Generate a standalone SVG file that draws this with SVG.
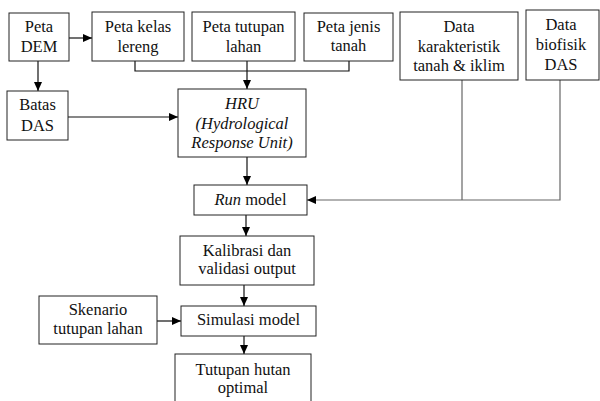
<svg xmlns="http://www.w3.org/2000/svg" width="600" height="401" viewBox="0 0 600 401">
<defs>
<marker id="ah" markerUnits="userSpaceOnUse" markerWidth="9" markerHeight="8" refX="9" refY="4" orient="auto">
<path d="M0,0 L9,4 L0,8 Z" fill="#000"/>
</marker>
<style>
.b{fill:#fff;stroke:#222;stroke-width:1}
.t{font-family:"Liberation Serif","DejaVu Serif",serif;font-size:16.5px;fill:#111;text-anchor:middle}
.i{font-style:italic}
.c{fill:none;stroke:#111;stroke-width:1.2}
.g{fill:none;stroke:#666;stroke-width:1.2}
</style>
</defs>
<rect width="600" height="401" fill="#fff"/>
<g id="connectors">
<path class="c" d="M69,38 H92" marker-end="url(#ah)"/>
<path class="c" d="M38,61 V91" marker-end="url(#ah)"/>
<path class="c" d="M68,117 H178" marker-end="url(#ah)"/>
<path class="c" d="M135,61 V71 H349 V61"/>
<path class="c" d="M247,61 V89" marker-end="url(#ah)"/>
<path class="c" d="M247,157 V185" marker-end="url(#ah)"/>
<path class="g" d="M462,80 V200"/>
<path class="g" d="M560,80 V200 H307" marker-end="url(#ah)"/>
<path class="c" d="M246,215 V236" marker-end="url(#ah)"/>
<path class="c" d="M244,285 V306" marker-end="url(#ah)"/>
<path class="c" d="M157,321 H181" marker-end="url(#ah)"/>
<path class="c" d="M244,336 V354" marker-end="url(#ah)"/>
</g>
<g id="peta-dem"><rect class="b" x="9" y="13" width="60" height="48"/><text class="t" x="39" y="32">Peta</text><text class="t" x="39" y="52">DEM</text></g>
<g id="peta-kelas"><rect class="b" x="92" y="12" width="92" height="49"/><text class="t" x="138" y="32">Peta kelas</text><text class="t" x="138" y="52">lereng</text></g>
<g id="peta-tutupan"><rect class="b" x="192" y="12" width="103" height="49"/><text class="t" x="243.5" y="32">Peta tutupan</text><text class="t" x="243.5" y="52">lahan</text></g>
<g id="peta-jenis"><rect class="b" x="304" y="13" width="89" height="48"/><text class="t" x="348.5" y="32">Peta jenis</text><text class="t" x="348.5" y="51">tanah</text></g>
<g id="data-karakteristik"><rect class="b" x="400" y="12" width="118" height="68"/><text class="t" x="459" y="32">Data</text><text class="t" x="459" y="52">karakteristik</text><text class="t" x="459" y="71">tanah &amp; iklim</text></g>
<g id="data-biofisik"><rect class="b" x="526" y="10" width="73" height="70"/><text class="t" x="561" y="30">Data</text><text class="t" x="561" y="50">biofisik</text><text class="t" x="561" y="70">DAS</text></g>
<g id="batas-das"><rect class="b" x="7" y="91" width="61" height="49"/><text class="t" x="37.5" y="110">Batas</text><text class="t" x="37.5" y="131">DAS</text></g>
<g id="hru"><rect class="b" x="178" y="89" width="128" height="68"/><text class="t i" x="242" y="109">HRU</text><text class="t i" x="242" y="129">(Hydrological</text><text class="t i" x="242" y="148">Response Unit)</text></g>
<g id="run-model"><rect class="b" x="194" y="185" width="113" height="30"/><text class="t" x="250.5" y="205"><tspan class="i">Run</tspan> model</text></g>
<g id="kalibrasi"><rect class="b" x="180" y="236" width="134" height="49"/><text class="t" x="247" y="256">Kalibrasi dan</text><text class="t" x="247" y="274">validasi output</text></g>
<g id="skenario"><rect class="b" x="39" y="296" width="118" height="48"/><text class="t" x="98" y="315">Skenario</text><text class="t" x="98" y="334">tutupan lahan</text></g>
<g id="simulasi"><rect class="b" x="181" y="306" width="135" height="30"/><text class="t" x="248.5" y="325">Simulasi model</text></g>
<g id="tutupan-hutan"><rect class="b" x="175" y="354" width="136" height="52"/><text class="t" x="243" y="375">Tutupan hutan</text><text class="t" x="243" y="393">optimal</text></g>
</svg>
